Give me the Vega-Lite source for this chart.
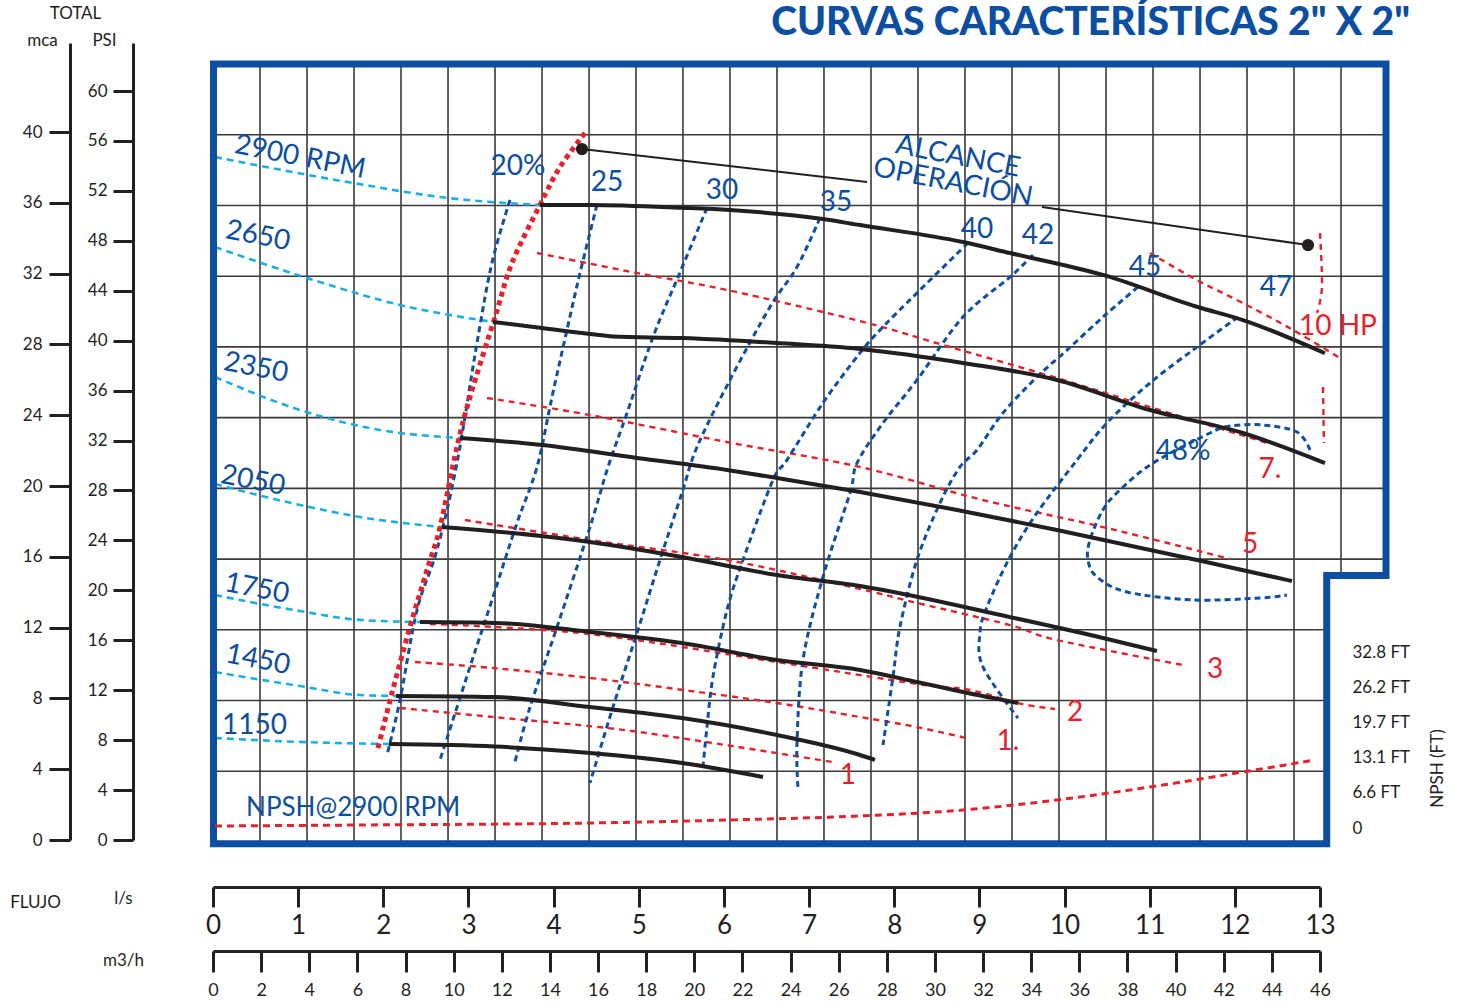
{
"$schema":"https://vega.github.io/schema/vega-lite/v6.json",
"width":1107,"height":778,"autosize":"none",
"padding":{"left":213,"top":64,"right":141,"bottom":162},
"background":"white",
"config":{"view":{"stroke":null},"font":"Lato",
 "axis":{"grid":false,"domainColor":"#231f20","tickColor":"#231f20","labelColor":"#231f20","titleColor":"#231f20","domainWidth":3,"tickWidth":3,"labelFont":"Lato","titleFont":"Lato","titleFontWeight":"normal","labelOverlap":false,"labelFlush":false}},
"title":{"text":"CURVAS CARACTERÍSTICAS 2\" X 2\"","anchor":"end","frame":"group","orient":"top","dx":90,"offset":-70,"baseline":"alphabetic","font":"Lato","fontSize":39,"fontWeight":900,"color":"#0b4ea2"},
"datasets":{
"gridV":[{"x":0.552,"y":0,"y2":44},{"x":1.104,"y":0,"y2":44},{"x":1.656,"y":0,"y2":44},{"x":2.208,"y":0,"y2":44},{"x":2.760,"y":0,"y2":44},{"x":3.312,"y":0,"y2":44},{"x":3.864,"y":0,"y2":44},{"x":4.416,"y":0,"y2":44},{"x":4.967,"y":0,"y2":44},{"x":5.519,"y":0,"y2":44},{"x":6.071,"y":0,"y2":44},{"x":6.623,"y":0,"y2":44},{"x":7.175,"y":0,"y2":44},{"x":7.727,"y":0,"y2":44},{"x":8.279,"y":0,"y2":44},{"x":8.831,"y":0,"y2":44},{"x":9.383,"y":0,"y2":44},{"x":9.935,"y":0,"y2":44},{"x":10.487,"y":0,"y2":44},{"x":11.039,"y":0,"y2":44},{"x":11.591,"y":0,"y2":44},{"x":12.143,"y":0,"y2":44},{"x":12.695,"y":0,"y2":44},{"x":13.247,"y":15,"y2":44}],
"gridH":[{"x":0,"x2":13.079,"y":4},{"x":0,"x2":13.079,"y":8},{"x":0,"x2":13.079,"y":12},{"x":0,"x2":13.775,"y":16},{"x":0,"x2":13.775,"y":20},{"x":0,"x2":13.775,"y":24},{"x":0,"x2":13.775,"y":28},{"x":0,"x2":13.775,"y":32},{"x":0,"x2":13.775,"y":36},{"x":0,"x2":13.775,"y":40}],
"frame":[{"i":0,"x":0.006,"y":-0.1},{"i":1,"x":0.006,"y":44},{"i":2,"x":13.775,"y":44},{"i":3,"x":13.775,"y":15.07},{"i":4,"x":13.079,"y":15.07},{"i":5,"x":13.079,"y":-0.1},{"i":6,"x":0.006,"y":-0.1}],
"head":[
{"c":"2900","i":0,"x":3.840,"y":36.03},{"c":"2900","i":1,"x":4.427,"y":36.03},{"c":"2900","i":2,"x":5.507,"y":35.87},{"c":"2900","i":3,"x":6.071,"y":35.74},{"c":"2900","i":4,"x":7.163,"y":35.23},{"c":"2900","i":5,"x":7.598,"y":34.89},{"c":"2900","i":6,"x":8.807,"y":33.93},{"c":"2900","i":7,"x":9.359,"y":33.31},{"c":"2900","i":8,"x":10.451,"y":32.07},{"c":"2900","i":9,"x":11.555,"y":30.27},{"c":"2900","i":10,"x":12.095,"y":29.52},{"c":"2900","i":11,"x":13.058,"y":27.64},
{"c":"2650","i":0,"x":3.288,"y":29.41},{"c":"2650","i":1,"x":3.863,"y":29.07},{"c":"2650","i":2,"x":4.427,"y":28.73},{"c":"2650","i":3,"x":4.697,"y":28.59},{"c":"2650","i":4,"x":5.507,"y":28.50},{"c":"2650","i":5,"x":6.623,"y":28.22},{"c":"2650","i":6,"x":7.598,"y":27.88},{"c":"2650","i":7,"x":8.807,"y":27.09},{"c":"2650","i":8,"x":9.911,"y":26.13},{"c":"2650","i":9,"x":11.003,"y":24.43},{"c":"2650","i":10,"x":12.095,"y":23.13},{"c":"2650","i":11,"x":13.058,"y":21.43},
{"c":"2350","i":0,"x":2.901,"y":22.85},{"c":"2350","i":1,"x":3.863,"y":22.45},{"c":"2350","i":2,"x":4.979,"y":21.72},{"c":"2350","i":3,"x":6.036,"y":21.04},{"c":"2350","i":4,"x":6.623,"y":20.59},{"c":"2350","i":5,"x":7.598,"y":19.79},{"c":"2350","i":6,"x":8.737,"y":18.78},{"c":"2350","i":7,"x":9.911,"y":17.65},{"c":"2350","i":8,"x":11.555,"y":15.95},{"c":"2350","i":9,"x":12.671,"y":14.76},
{"c":"2050","i":0,"x":2.689,"y":17.81},{"c":"2050","i":1,"x":3.852,"y":17.31},{"c":"2050","i":2,"x":4.427,"y":16.97},{"c":"2050","i":3,"x":5.507,"y":16.12},{"c":"2050","i":4,"x":6.623,"y":15.10},{"c":"2050","i":5,"x":7.598,"y":14.48},{"c":"2050","i":6,"x":9.359,"y":12.72},{"c":"2050","i":7,"x":10.451,"y":11.54},{"c":"2050","i":8,"x":11.085,"y":10.80},
{"c":"1750","i":0,"x":2.431,"y":12.44},{"c":"1750","i":1,"x":3.312,"y":12.39},{"c":"1750","i":2,"x":4.427,"y":11.88},{"c":"1750","i":3,"x":5.507,"y":11.25},{"c":"1750","i":4,"x":6.623,"y":10.29},{"c":"1750","i":5,"x":7.598,"y":9.73},{"c":"1750","i":6,"x":8.267,"y":9.05},{"c":"1750","i":7,"x":8.807,"y":8.48},{"c":"1750","i":8,"x":9.453,"y":7.86},
{"c":"1450","i":0,"x":2.149,"y":8.26},{"c":"1450","i":1,"x":3.312,"y":8.20},{"c":"1450","i":2,"x":4.427,"y":7.63},{"c":"1450","i":3,"x":5.507,"y":7.01},{"c":"1450","i":4,"x":6.623,"y":6.05},{"c":"1450","i":5,"x":7.598,"y":4.92},{"c":"1450","i":6,"x":7.774,"y":4.64},
{"c":"1150","i":0,"x":2.067,"y":5.54},{"c":"1150","i":1,"x":3.312,"y":5.40},{"c":"1150","i":2,"x":4.427,"y":5.03},{"c":"1150","i":3,"x":5.507,"y":4.47},{"c":"1150","i":4,"x":6.459,"y":3.68}],
"cyan":[
{"c":"2900","i":0,"x":0.023,"y":38.74},{"c":"2900","i":1,"x":1.644,"y":37.27},{"c":"2900","i":2,"x":2.760,"y":36.42},{"c":"2900","i":3,"x":3.840,"y":36.03},
{"c":"2650","i":0,"x":0.023,"y":33.65},{"c":"2650","i":1,"x":1.104,"y":31.90},{"c":"2650","i":2,"x":2.196,"y":30.37},{"c":"2650","i":3,"x":3.288,"y":29.41},
{"c":"2350","i":0,"x":0.023,"y":26.30},{"c":"2350","i":1,"x":1.022,"y":24.43},{"c":"2350","i":2,"x":1.961,"y":23.30},{"c":"2350","i":3,"x":2.901,"y":22.85},
{"c":"2050","i":0,"x":0.023,"y":20.25},{"c":"2050","i":1,"x":1.022,"y":19.06},{"c":"2050","i":2,"x":1.726,"y":18.38},{"c":"2050","i":3,"x":2.689,"y":17.81},
{"c":"1750","i":0,"x":0.023,"y":13.97},{"c":"1750","i":1,"x":1.022,"y":13.06},{"c":"1750","i":2,"x":1.726,"y":12.56},{"c":"1750","i":3,"x":2.431,"y":12.44},
{"c":"1450","i":0,"x":0.023,"y":9.61},{"c":"1450","i":1,"x":1.022,"y":8.82},{"c":"1450","i":2,"x":1.726,"y":8.31},{"c":"1450","i":3,"x":2.149,"y":8.26},
{"c":"1150","i":0,"x":0.023,"y":5.88},{"c":"1150","i":1,"x":1.022,"y":5.66},{"c":"1150","i":2,"x":2.067,"y":5.54}],
"eff":[
{"c":"20","i":0,"x":3.488,"y":36.31},{"c":"20","i":1,"x":3.276,"y":32.75},{"c":"20","i":2,"x":3.100,"y":28.22},{"c":"20","i":3,"x":2.865,"y":21.43},{"c":"20","i":4,"x":2.630,"y":16.51},{"c":"20","i":5,"x":2.396,"y":13.12},{"c":"20","i":6,"x":2.196,"y":8.03},{"c":"20","i":7,"x":2.043,"y":4.92},
{"c":"25","i":0,"x":4.509,"y":36.03},{"c":"25","i":1,"x":4.310,"y":32.18},{"c":"25","i":2,"x":4.157,"y":28.96},{"c":"25","i":3,"x":3.981,"y":25.17},{"c":"25","i":4,"x":3.805,"y":21.21},{"c":"25","i":5,"x":3.570,"y":18.04},{"c":"25","i":6,"x":3.288,"y":13.86},{"c":"25","i":7,"x":3.018,"y":9.90},{"c":"25","i":8,"x":2.666,"y":4.64},
{"c":"30","i":0,"x":5.801,"y":35.86},{"c":"30","i":1,"x":5.461,"y":31.95},{"c":"30","i":2,"x":5.167,"y":28.56},{"c":"30","i":3,"x":4.862,"y":24.26},{"c":"30","i":4,"x":4.639,"y":21.21},{"c":"30","i":5,"x":4.427,"y":17.81},{"c":"30","i":6,"x":4.040,"y":12.16},{"c":"30","i":7,"x":3.723,"y":7.63},{"c":"30","i":8,"x":3.546,"y":4.52},
{"c":"35","i":0,"x":7.128,"y":35.29},{"c":"35","i":1,"x":6.858,"y":32.52},{"c":"35","i":2,"x":6.541,"y":30.26},{"c":"35","i":3,"x":6.071,"y":26.13},{"c":"35","i":4,"x":5.684,"y":22.34},{"c":"35","i":5,"x":5.507,"y":19.74},{"c":"35","i":6,"x":5.249,"y":15.95},{"c":"35","i":7,"x":4.979,"y":11.82},{"c":"35","i":8,"x":4.697,"y":7.63},{"c":"35","i":9,"x":4.427,"y":3.34},
{"c":"40","i":0,"x":8.866,"y":33.88},{"c":"40","i":1,"x":8.267,"y":31.05},{"c":"40","i":2,"x":7.868,"y":29.13},{"c":"40","i":3,"x":7.598,"y":27.66},{"c":"40","i":4,"x":7.163,"y":24.83},{"c":"40","i":5,"x":6.740,"y":21.60},{"c":"40","i":6,"x":6.576,"y":20.47},{"c":"40","i":7,"x":6.224,"y":15.95},{"c":"40","i":8,"x":6.036,"y":13.12},{"c":"40","i":9,"x":5.871,"y":9.33},{"c":"40","i":10,"x":5.801,"y":6.50},{"c":"40","i":11,"x":5.754,"y":4.24},
{"c":"42","i":0,"x":9.629,"y":33.20},{"c":"42","i":1,"x":9.359,"y":31.95},{"c":"42","i":2,"x":8.807,"y":29.69},{"c":"42","i":3,"x":8.267,"y":26.13},{"c":"42","i":4,"x":7.868,"y":23.70},{"c":"42","i":5,"x":7.563,"y":21.43},{"c":"42","i":6,"x":7.480,"y":19.74},{"c":"42","i":7,"x":7.163,"y":14.99},{"c":"42","i":8,"x":6.928,"y":10.29},{"c":"42","i":9,"x":6.858,"y":5.60},{"c":"42","i":10,"x":6.870,"y":3.05},
{"c":"45","i":0,"x":10.862,"y":31.39},{"c":"45","i":1,"x":10.451,"y":29.69},{"c":"45","i":2,"x":10.029,"y":27.82},{"c":"45","i":3,"x":9.676,"y":26.30},{"c":"45","i":4,"x":9.277,"y":24.26},{"c":"45","i":5,"x":8.972,"y":22.17},{"c":"45","i":6,"x":8.772,"y":21.21},{"c":"45","i":7,"x":8.537,"y":19.17},{"c":"45","i":8,"x":8.267,"y":15.95},{"c":"45","i":9,"x":8.067,"y":12.16},{"c":"45","i":10,"x":7.985,"y":9.33},{"c":"45","i":11,"x":7.868,"y":5.49},
{"c":"47","i":0,"x":12.037,"y":29.69},{"c":"47","i":1,"x":11.555,"y":27.99},{"c":"47","i":2,"x":11.003,"y":25.96},{"c":"47","i":3,"x":10.498,"y":23.70},{"c":"47","i":4,"x":10.146,"y":21.60},{"c":"47","i":5,"x":9.676,"y":18.61},{"c":"47","i":6,"x":9.359,"y":16.12},{"c":"47","i":7,"x":9.089,"y":13.29},{"c":"47","i":8,"x":9.007,"y":11.82},{"c":"47","i":9,"x":9.042,"y":9.90},{"c":"47","i":10,"x":9.453,"y":7.01},
{"c":"48","i":0,"x":12.882,"y":22.17},{"c":"48","i":1,"x":12.730,"y":23.19},{"c":"48","i":2,"x":12.330,"y":23.58},{"c":"48","i":3,"x":11.943,"y":23.53},{"c":"48","i":4,"x":11.708,"y":23.13},{"c":"48","i":5,"x":11.039,"y":21.43},{"c":"48","i":6,"x":10.651,"y":19.91},{"c":"48","i":7,"x":10.451,"y":18.78},{"c":"48","i":8,"x":10.299,"y":17.08},{"c":"48","i":9,"x":10.275,"y":15.95},{"c":"48","i":10,"x":10.381,"y":14.99},{"c":"48","i":11,"x":10.733,"y":14.14},{"c":"48","i":12,"x":11.508,"y":13.69},{"c":"48","i":13,"x":12.295,"y":13.80},{"c":"48","i":14,"x":12.612,"y":13.97}],
"power":[
{"c":"10","i":0,"x":11.003,"y":33.31},{"c":"10","i":1,"x":11.555,"y":31.78},{"c":"10","i":2,"x":12.095,"y":30.48},{"c":"10","i":3,"x":12.683,"y":28.96},{"c":"10","i":4,"x":13.235,"y":27.37},
{"c":"v1","i":0,"x":13.000,"y":34.44},{"c":"v1","i":1,"x":13.023,"y":31.39},{"c":"v1","i":2,"x":12.965,"y":29.92},
{"c":"v2","i":0,"x":13.035,"y":25.73},{"c":"v2","i":1,"x":13.046,"y":22.57},
{"c":"7.5","i":0,"x":3.805,"y":33.31},{"c":"7.5","i":1,"x":4.979,"y":32.18},{"c":"7.5","i":2,"x":6.036,"y":31.22},{"c":"7.5","i":3,"x":7.598,"y":29.46},{"c":"7.5","i":4,"x":8.572,"y":28.11},{"c":"7.5","i":5,"x":9.911,"y":26.24},{"c":"7.5","i":6,"x":11.003,"y":24.60},{"c":"7.5","i":7,"x":12.377,"y":22.57},
{"c":"5","i":0,"x":3.218,"y":25.11},{"c":"5","i":1,"x":4.427,"y":24.15},{"c":"5","i":2,"x":6.036,"y":22.62},{"c":"5","i":3,"x":7.598,"y":21.21},{"c":"5","i":4,"x":9.042,"y":19.34},{"c":"5","i":5,"x":10.451,"y":17.81},{"c":"5","i":6,"x":11.943,"y":16.01},
{"c":"3","i":0,"x":2.959,"y":18.21},{"c":"3","i":1,"x":4.427,"y":17.08},{"c":"3","i":2,"x":6.036,"y":15.95},{"c":"3","i":3,"x":7.598,"y":14.31},{"c":"3","i":4,"x":8.267,"y":13.52},{"c":"3","i":5,"x":9.359,"y":12.27},{"c":"3","i":6,"x":9.911,"y":11.42},{"c":"3","i":7,"x":11.391,"y":10.01},
{"c":"2","i":0,"x":2.548,"y":12.33},{"c":"2","i":1,"x":4.427,"y":11.76},{"c":"2","i":2,"x":6.623,"y":10.18},{"c":"2","i":3,"x":8.267,"y":8.94},{"c":"2","i":4,"x":8.889,"y":8.60},{"c":"2","i":5,"x":9.441,"y":7.86},{"c":"2","i":6,"x":9.888,"y":7.52},
{"c":"1.5","i":0,"x":2.372,"y":10.18},{"c":"1.5","i":1,"x":3.288,"y":9.84},{"c":"1.5","i":2,"x":4.427,"y":9.28},{"c":"1.5","i":3,"x":5.519,"y":8.60},{"c":"1.5","i":4,"x":6.623,"y":7.86},{"c":"1.5","i":5,"x":7.598,"y":7.07},{"c":"1.5","i":6,"x":8.267,"y":6.50},{"c":"1.5","i":7,"x":8.889,"y":5.83},
{"c":"1","i":0,"x":2.196,"y":7.58},{"c":"1","i":1,"x":3.288,"y":7.07},{"c":"1","i":2,"x":4.627,"y":6.45},{"c":"1","i":3,"x":5.637,"y":5.77},{"c":"1","i":4,"x":7.281,"y":4.52}],
"minflow":[{"i":0,"x":4.368,"y":40.10},{"i":1,"x":4.075,"y":38.17},{"i":2,"x":3.840,"y":36.03},{"i":3,"x":3.511,"y":32.75},{"i":4,"x":3.312,"y":29.69},{"i":5,"x":3.018,"y":25.17},{"i":6,"x":2.865,"y":22.34},{"i":7,"x":2.666,"y":17.81},{"i":8,"x":2.513,"y":15.38},{"i":9,"x":2.313,"y":12.16},{"i":10,"x":2.102,"y":8.43},{"i":11,"x":1.926,"y":5.09}],
"alc":[{"c":"a","i":0,"x":4.333,"y":39.19},{"c":"a","i":1,"x":7.680,"y":37.33},{"c":"b","i":0,"x":9.735,"y":35.91},{"c":"b","i":1,"x":12.859,"y":33.76}],
"dots":[{"x":4.333,"y":39.19},{"x":12.859,"y":33.76}],
"npsh":[{"x":0.023,"ft":0.37},{"x":1.726,"ft":0.56},{"x":4.427,"ft":0.93},{"x":6.036,"ft":1.49},{"x":7.598,"ft":2.24},{"x":8.807,"ft":3.35},{"x":9.911,"ft":5.22},{"x":11.003,"ft":7.64},{"x":12.095,"ft":10.44},{"x":12.941,"ft":12.67}],
"rpmRot":[{"t":"2900 RPM","x":0.258,"y":39.42},{"t":"2650","x":0.153,"y":34.61},{"t":"2350","x":0.129,"y":27.15},{"t":"2050","x":0.094,"y":20.76},{"t":"1750","x":0.141,"y":14.65},{"t":"1450","x":0.153,"y":10.63}],
"rpmFlat":[{"t":"1150","x":0.106,"y":6.56}],
"npshLbl":[{"t":"NPSH@2900 RPM","x":0.388,"y":1.92}],
"effLbl":[{"t":"20%","x":3.582,"y":38.17},{"t":"25","x":4.627,"y":37.27},{"t":"30","x":5.977,"y":36.82},{"t":"35","x":7.316,"y":36.14},{"t":"40","x":8.972,"y":34.61},{"t":"42","x":9.688,"y":34.27},{"t":"45","x":10.945,"y":32.46},{"t":"47","x":12.484,"y":31.33},{"t":"48%","x":11.391,"y":22.06}],
"pwrLbl":[{"t":"10 HP","x":13.211,"y":29.13},{"t":"7.","x":12.413,"y":21.04},{"t":"5","x":12.178,"y":16.80},{"t":"3","x":11.767,"y":9.73},{"t":"2","x":10.123,"y":7.30},{"t":"1.","x":9.336,"y":5.66},{"t":"1","x":7.457,"y":3.73}],
"alcLbl":[{"t":"ALCANCE","x":8.749,"y":38.74},{"t":"OPERACIÓN","x":8.690,"y":37.27}]
},
"layer":[
{
 "encoding":{
  "x":{"field":"x","type":"quantitative","scale":{"domain":[0,13],"nice":false,"zero":false},
   "axis":{"orient":"bottom","offset":45,"values":[0,1,2,3,4,5,6,7,8,9,10,11,12,13],"labelFontSize":26,"tickSize":20,"labelPadding":5,"title":"l/s","titleX":-90,"titleY":11,"titleAlign":"center","titleBaseline":"middle","titleFontSize":17}},
  "y":{"field":"y","type":"quantitative","scale":{"domain":[0,44],"nice":false,"zero":false},"axis":null}
 },
 "layer":[
  {"data":{"name":"gridV"},"mark":{"type":"rule","color":"#3a3a3a","strokeWidth":1.6},"encoding":{"y2":{"field":"y2"}}},
  {"data":{"name":"gridH"},"mark":{"type":"rule","color":"#3a3a3a","strokeWidth":1.6},"encoding":{"x2":{"field":"x2"}}},
  {"data":{"name":"cyan"},"mark":{"type":"line","color":"#1aaee6","strokeWidth":2.6,"strokeDash":[7,5],"interpolate":"monotone"},"encoding":{"detail":{"field":"c"},"order":{"field":"i"}}},
  {"data":{"name":"power"},"mark":{"type":"line","color":"#e8202a","strokeWidth":2.4,"strokeDash":[6,5],"interpolate":"cardinal"},"encoding":{"detail":{"field":"c"},"order":{"field":"i"}}},
  {"data":{"name":"eff"},"mark":{"type":"line","color":"#0d4fa3","strokeWidth":3,"strokeDash":[6,4],"interpolate":"cardinal"},"encoding":{"detail":{"field":"c"},"order":{"field":"i"}}},
  {"data":{"name":"minflow"},"mark":{"type":"line","color":"#e8202a","strokeWidth":5,"strokeDash":[5,4],"interpolate":"cardinal"},"encoding":{"order":{"field":"i"}}},
  {"data":{"name":"head"},"mark":{"type":"line","color":"#231f20","strokeWidth":4,"interpolate":"monotone"},"encoding":{"detail":{"field":"c"},"order":{"field":"i"}}},
  {"data":{"name":"alc"},"mark":{"type":"line","color":"#231f20","strokeWidth":2},"encoding":{"detail":{"field":"c"},"order":{"field":"i"}}},
  {"data":{"name":"dots"},"mark":{"type":"point","filled":true,"size":150,"color":"#231f20","opacity":1}},
  {"data":{"name":"rpmRot"},"mark":{"type":"text","angle":11,"align":"left","baseline":"middle","fontSize":28,"color":"#0b4ea2","font":"Lato"},"encoding":{"text":{"field":"t"}}},
  {"data":{"name":"rpmFlat"},"mark":{"type":"text","align":"left","baseline":"middle","fontSize":28,"color":"#0b4ea2","font":"Lato"},"encoding":{"text":{"field":"t"}}},
  {"data":{"name":"npshLbl"},"mark":{"type":"text","align":"left","baseline":"middle","fontSize":26,"color":"#0b4ea2","font":"Lato"},"encoding":{"text":{"field":"t"}}},
  {"data":{"name":"effLbl"},"mark":{"type":"text","align":"center","baseline":"middle","fontSize":28,"color":"#0b4ea2","font":"Lato"},"encoding":{"text":{"field":"t"}}},
  {"data":{"name":"pwrLbl"},"mark":{"type":"text","align":"center","baseline":"middle","fontSize":28,"color":"#e8202a","font":"Lato"},"encoding":{"text":{"field":"t"}}},
  {"data":{"name":"alcLbl"},"mark":{"type":"text","angle":11,"align":"center","baseline":"middle","fontSize":28,"color":"#0b4ea2","font":"Lato"},"encoding":{"text":{"field":"t"}}},
  {"data":{"name":"frame"},"mark":{"type":"line","color":"#0b4ea2","strokeWidth":7,"strokeJoin":"miter","strokeCap":"square"},"encoding":{"order":{"field":"i"}}}
 ]
},
{"data":{"name":"npsh"},"mark":{"type":"line","color":"#e8202a","strokeWidth":3,"strokeDash":[7,5],"interpolate":"monotone"},
 "encoding":{
  "x":{"field":"x","type":"quantitative","scale":{"domain":[0,13],"nice":false,"zero":false},"axis":null},
  "y":{"field":"ft","type":"quantitative","scale":{"domain":[0,32.8],"range":[764,588],"nice":false,"zero":false},
   "axis":{"orient":"right","offset":32,"values":[0,6.6,13.1,19.7,26.2,32.8],"labelExpr":"datum.value == 0 ? '0' : format(datum.value, '.1f') + ' FT'","ticks":false,"tickSize":0,"domain":false,"labelPadding":0,"labelFontSize":17,"labelAlign":"left","labelBaseline":"middle","title":"NPSH (FT)","titleAngle":270,"titleX":85,"titleY":704,"titleAlign":"center","titleBaseline":"middle","titleFontSize":17}}
 }},
{"data":{"values":[{"m":0},{"m":40}]},"mark":{"type":"point","opacity":0},
 "encoding":{"y":{"field":"m","type":"quantitative","scale":{"domain":[0,45.03],"range":[776,-21],"nice":false,"zero":false},
  "axis":{"orient":"left","offset":143,"values":[0,4,8,12,16,20,24,28,32,36,40],"labelFontSize":17,"tickSize":21,"labelPadding":7,"title":"mca","titleAngle":0,"titleX":-28,"titleY":-24,"titleAlign":"center","titleBaseline":"middle","titleFontSize":17}}}},
{"data":{"values":[{"p":0},{"p":60}]},"mark":{"type":"point","opacity":0},
 "encoding":{"y":{"field":"p","type":"quantitative","scale":{"domain":[0,63.85],"range":[776,-21],"nice":false,"zero":false},
  "axis":{"orient":"left","offset":80,"values":[0,4,8,12,16,20,24,28,32,36,40,44,48,52,56,60],"labelFontSize":17,"tickSize":20,"labelPadding":6,"title":"PSI","titleAngle":0,"titleX":-29,"titleY":-24,"titleAlign":"center","titleBaseline":"middle","titleFontSize":17}}}},
{"data":{"values":[{"t":0},{"t":1}]},"mark":{"type":"point","opacity":0},
 "encoding":{"y":{"field":"t","type":"quantitative","scale":{"domain":[0,1]},
  "axis":{"orient":"left","offset":143,"domain":false,"ticks":false,"labels":false,"title":"TOTAL","titleAngle":0,"titleX":5,"titleY":-51,"titleAlign":"center","titleBaseline":"middle","titleFontSize":17}}}},
{"data":{"values":[{"q":0},{"q":46}]},"mark":{"type":"point","opacity":0},
 "encoding":{"x":{"field":"q","type":"quantitative","scale":{"domain":[0,46],"nice":false,"zero":false},
  "axis":{"orient":"bottom","offset":109,"values":[0,2,4,6,8,10,12,14,16,18,20,22,24,26,28,30,32,34,36,38,40,42,44,46],"labelFontSize":18,"tickSize":21,"labelPadding":9,"title":"m3/h","titleX":-90,"titleY":9,"titleAlign":"center","titleBaseline":"middle","titleFontSize":17}}}},
{"data":{"values":[{"f":0},{"f":1}]},"mark":{"type":"point","opacity":0},
 "encoding":{"x":{"field":"f","type":"quantitative","scale":{"domain":[0,1]},
  "axis":{"orient":"bottom","offset":45,"domain":false,"ticks":false,"labels":false,"title":"FLUJO","titleX":-178,"titleY":15,"titleAlign":"center","titleBaseline":"middle","titleFontSize":17}}}}
],
"resolve":{"scale":{"x":"independent","y":"independent"},"axis":{"x":"independent","y":"independent"}}
}
